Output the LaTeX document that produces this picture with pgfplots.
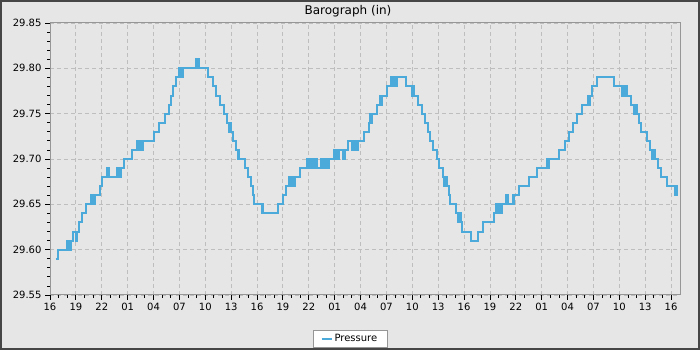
\documentclass[border=0pt]{standalone}
\usepackage{pgfplots}
\pgfplotsset{compat=1.18}
\usepackage{fontspec}
\setmainfont{DejaVu Sans}
\definecolor{bgc}{RGB}{230,230,230}
\definecolor{brd}{RGB}{70,70,70}
\definecolor{gridc}{RGB}{190,190,190}
\definecolor{axc}{RGB}{150,150,150}
\definecolor{linec}{RGB}{75,170,218}
\begin{document}
\begin{tikzpicture}[x=1pt,y=1pt]
\fill[bgc] (0,0) rectangle (700,350);
\draw[brd, line width=2pt] (1,1) rectangle (699,349);
\begin{axis}[
  at={(50pt,55pt)}, anchor=south west,
  scale only axis, width=630pt, height=272pt,
  xmin=0, xmax=73.04, ymin=29.55, ymax=29.85,
  xtick={0,3,...,72},
  xticklabels={16,19,22,01,04,07,10,13,16,19,22,01,04,07,10,13,16,19,22,01,04,07,10,13,16},
  ytick={29.55,29.60,...,29.86},
  minor x tick num=2, minor y tick num=4,
  tick pos=left, tick align=outside,
  major tick length=5pt, minor tick length=3pt,
  every tick/.style={black, line width=0.8pt},
  axis line style={axc, line width=1pt},
  grid=major,
  major grid style={gridc, dash pattern=on 4pt off 3pt, line width=0.8pt},
  /pgf/number format/assume math mode=true,
  yticklabel style={/pgf/number format/fixed, /pgf/number format/precision=2, /pgf/number format/fixed zerofill, font=\fontsize{10}{12}\selectfont},
  xticklabel style={font=\fontsize{10}{12}\selectfont},
  scaled y ticks=false,
  legend style={at={(0.476,-0.16)}, anchor=center, draw=axc, fill=white, font=\fontsize{10}{12}\selectfont, inner xsep=7.5pt, inner ysep=2pt},
  legend image code/.code={\draw[#1] (0pt,0pt) -- (10pt,0pt);},
]
\addplot[const plot, linec, line width=2pt] table {
x y
0.70 29.59
0.93 29.60
2.01 29.61
2.12 29.60
2.22 29.61
2.32 29.60
2.42 29.61
2.63 29.62
3.01 29.61
3.17 29.62
3.40 29.63
3.67 29.64
4.17 29.65
4.75 29.66
5.02 29.65
5.20 29.66
5.80 29.67
5.99 29.68
6.57 29.69
6.70 29.68
6.80 29.69
6.88 29.68
7.73 29.69
7.85 29.68
7.95 29.69
8.12 29.68
8.19 29.69
8.54 29.70
9.47 29.71
10.13 29.72
10.25 29.71
10.36 29.72
10.50 29.71
10.60 29.72
10.72 29.71
10.82 29.72
12.06 29.73
12.68 29.74
13.33 29.75
13.79 29.76
13.99 29.77
14.30 29.78
14.57 29.79
14.95 29.80
15.07 29.79
15.20 29.80
15.32 29.79
15.45 29.80
16.92 29.81
17.02 29.80
17.12 29.81
17.31 29.80
18.28 29.79
18.93 29.78
19.24 29.77
19.71 29.76
20.21 29.75
20.48 29.74
20.75 29.73
20.85 29.74
20.98 29.73
21.25 29.72
21.52 29.71
21.75 29.70
21.85 29.71
21.95 29.70
22.60 29.69
22.96 29.68
23.27 29.67
23.57 29.66
23.65 29.65
24.54 29.64
24.65 29.65
24.75 29.64
26.47 29.65
27.05 29.66
27.36 29.67
27.75 29.68
27.90 29.67
28.05 29.68
28.20 29.67
28.40 29.68
28.99 29.69
29.76 29.70
29.90 29.69
30.05 29.70
30.20 29.69
30.35 29.70
30.53 29.69
30.73 29.70
30.92 29.69
31.42 29.70
31.55 29.69
31.70 29.70
31.85 29.69
32.00 29.70
32.15 29.69
32.30 29.70
32.93 29.71
33.05 29.70
33.20 29.71
33.35 29.70
33.50 29.71
33.93 29.70
34.20 29.71
34.60 29.72
34.98 29.71
35.17 29.72
35.30 29.71
35.45 29.72
35.60 29.71
35.75 29.72
36.41 29.73
36.96 29.74
37.10 29.75
37.20 29.74
37.30 29.75
37.87 29.76
38.26 29.77
38.40 29.76
38.52 29.77
39.03 29.78
39.53 29.79
39.65 29.78
39.80 29.79
39.95 29.78
40.19 29.79
41.24 29.78
41.93 29.77
42.05 29.78
42.20 29.77
42.70 29.76
43.09 29.75
43.48 29.74
43.79 29.73
44.06 29.72
44.44 29.71
44.87 29.70
45.14 29.69
45.57 29.68
45.72 29.67
45.85 29.68
46.00 29.67
46.26 29.66
46.38 29.65
47.07 29.64
47.30 29.63
47.45 29.64
47.60 29.63
47.73 29.62
48.81 29.61
49.67 29.62
50.25 29.63
51.48 29.64
51.71 29.65
51.85 29.64
52.00 29.65
52.15 29.64
52.37 29.65
52.87 29.66
53.14 29.65
53.65 29.66
53.75 29.65
53.85 29.66
54.38 29.67
55.54 29.68
56.50 29.69
57.60 29.70
57.70 29.69
57.80 29.70
59.02 29.71
59.71 29.72
60.22 29.73
60.60 29.74
61.06 29.75
61.72 29.76
62.34 29.77
62.45 29.76
62.55 29.77
62.88 29.78
63.40 29.79
65.43 29.78
66.36 29.77
66.50 29.78
66.65 29.77
66.75 29.78
66.86 29.77
67.36 29.76
67.75 29.75
67.88 29.76
68.02 29.75
68.29 29.74
68.52 29.73
69.18 29.72
69.57 29.71
69.84 29.70
69.97 29.71
70.10 29.70
70.45 29.69
70.84 29.68
71.50 29.67
72.50 29.66
72.60 29.67
72.70 29.66
72.73 29.66
};
\addlegendentry{Pressure}
\end{axis}
\node[font=\fontsize{12}{14}\selectfont] at (348,339) {Barograph (in)};
\end{tikzpicture}
\end{document}
